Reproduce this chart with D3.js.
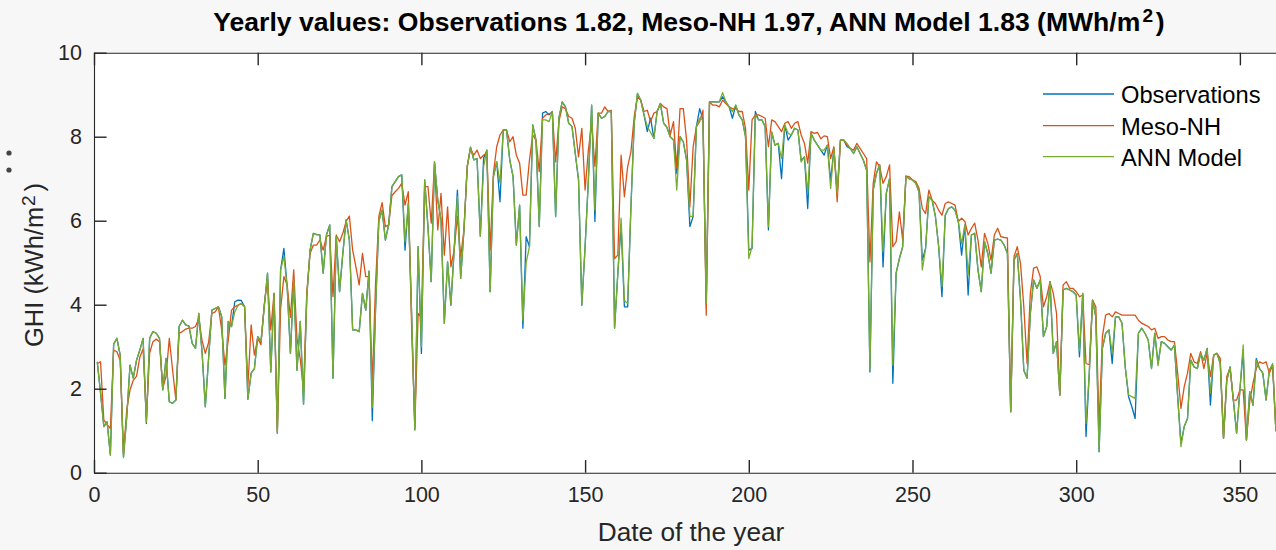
<!DOCTYPE html>
<html>
<head>
<meta charset="utf-8">
<script src="https://cdn.jsdelivr.net/npm/d3@7"></script>
<style>
  html, body { margin: 0; padding: 0; background: #f7f7f7; }
  svg { display: block; }
  text { font-family: "Liberation Sans", Arial, Helvetica, sans-serif; }
</style>
</head>
<body>
<svg id="chart" width="1276" height="550"></svg>
<script>
// Daily global horizontal irradiation, kWh/m2 per day, days 1..365
const observations = [
  2.64,1.90,1.10,1.21,0.42,3.06,3.20,2.80,0.38,1.33,
  2.56,2.25,2.68,2.92,3.20,1.17,3.20,3.36,3.32,3.20,
  1.97,2.72,1.69,1.65,1.73,3.48,3.63,3.52,3.49,3.08,
  2.96,3.79,2.88,1.57,2.72,3.87,3.91,3.95,3.72,1.77,
  3.60,3.48,4.07,4.11,4.10,3.95,1.75,2.37,2.48,3.24,
  3.12,3.95,4.75,2.40,4.27,0.94,4.83,5.34,4.43,2.84,
  4.60,2.44,3.60,1.63,4.20,5.30,5.70,5.67,5.66,4.75,
  5.66,5.90,2.25,5.62,4.31,5.22,6.02,5.54,3.40,3.40,
  3.36,4.27,3.87,4.80,1.24,3.90,6.00,6.25,5.54,5.90,
  6.81,6.93,7.05,7.09,5.30,6.41,3.80,1.02,5.38,2.84,
  6.97,5.86,4.55,7.40,6.49,6.02,3.56,5.02,3.99,5.30,
  6.73,4.63,5.78,7.29,7.75,7.45,7.48,5.63,7.49,7.68,
  4.31,7.05,7.40,6.45,8.16,8.16,7.44,7.05,5.42,6.37,
  3.44,5.62,5.38,8.28,7.92,5.86,8.56,8.60,8.52,8.60,
  6.10,8.44,8.83,8.71,8.32,8.24,7.60,6.97,3.99,5.38,
  6.97,8.75,5.98,8.56,8.44,8.48,8.60,8.60,3.44,4.75,
  5.90,3.95,3.95,6.33,8.32,9.03,8.87,8.52,8.12,8.44,
  7.96,8.60,8.79,8.32,8.22,8.00,7.92,7.13,8.00,7.88,
  7.44,5.86,6.10,8.24,8.67,8.40,4.00,8.83,8.83,8.83,
  8.83,8.95,8.83,8.71,8.44,8.75,8.52,8.40,8.00,5.30,
  5.34,8.60,8.40,8.40,8.24,5.78,8.10,7.80,7.84,7.00,
  8.28,7.92,8.04,8.20,8.16,7.43,7.52,6.29,8.08,7.92,
  7.80,7.68,7.56,7.80,6.95,7.72,6.65,7.92,7.92,7.76,
  7.72,7.60,7.76,7.60,7.44,7.20,2.40,6.73,7.13,7.33,
  4.90,6.65,7.00,2.13,4.75,5.10,5.38,7.06,7.00,6.97,
  6.89,6.69,5.06,5.34,6.57,6.49,6.10,5.38,4.19,6.13,
  6.29,6.33,6.25,5.98,5.18,5.90,4.23,5.66,5.70,4.83,
  4.31,5.50,5.22,4.75,5.54,5.56,5.54,5.42,5.22,1.45,
  5.06,5.22,4.11,2.44,2.25,3.79,4.59,4.39,4.59,3.24,
  3.48,4.55,2.84,3.12,1.85,4.35,4.39,4.35,4.31,4.23,
  2.76,4.27,0.86,2.37,4.11,3.71,0.50,2.96,3.32,3.40,
  2.60,3.71,3.71,3.56,2.50,1.81,1.57,1.29,3.32,3.44,
  3.32,3.16,2.48,3.32,2.60,3.12,3.08,3.00,2.92,3.04,
  1.80,0.70,1.10,1.29,2.68,2.52,2.48,2.84,2.68,2.96,
  1.61,2.80,2.84,2.60,0.82,2.20,2.52,1.73,0.94,1.97,
  2.90,0.78,1.93,1.61,2.72,2.48,2.37,1.73,2.44,2.55,
  1.00,1.90,2.30,2.10,1.80
];

const mesoNH = [
  2.60,2.64,1.25,1.15,1.05,2.92,2.88,2.68,0.45,1.50,
  1.97,2.20,2.30,2.75,2.95,1.30,2.85,3.12,3.18,3.12,
  2.00,2.30,3.20,2.45,1.73,3.32,3.36,3.42,3.44,3.44,
  3.48,3.67,3.15,2.84,3.10,3.79,3.83,3.95,3.40,2.56,
  3.15,3.87,3.95,3.99,4.03,3.95,2.05,3.52,2.80,3.20,
  3.05,4.00,4.60,3.40,4.27,1.00,3.90,4.67,4.47,3.70,
  4.83,3.20,2.70,1.97,4.30,5.22,5.42,5.42,5.54,5.30,
  5.62,5.66,4.19,5.66,5.50,5.70,5.98,6.11,5.30,4.90,
  4.47,5.22,4.67,4.67,2.13,4.50,6.10,6.43,5.86,5.90,
  6.60,6.69,6.77,6.89,6.37,6.69,3.50,1.10,3.79,3.71,
  6.81,6.81,5.94,7.35,5.78,6.65,5.18,6.33,4.90,5.30,
  6.10,5.14,5.78,7.29,7.72,7.56,7.68,7.48,7.56,7.60,
  5.30,7.13,7.76,8.04,8.16,8.16,7.88,8.00,7.56,7.37,
  6.61,6.61,7.44,8.04,7.92,7.17,8.44,8.52,8.55,8.56,
  7.40,8.36,8.71,8.67,8.48,8.44,8.20,7.52,8.20,6.73,
  7.68,8.32,7.29,8.56,8.56,8.71,8.60,8.63,5.10,5.18,
  7.56,6.57,7.29,7.64,8.48,8.95,8.87,8.60,8.63,8.36,
  8.56,8.60,8.79,8.71,8.67,8.04,8.36,7.25,8.67,8.67,
  7.92,6.33,7.76,8.24,8.36,8.63,3.75,8.83,8.75,8.75,
  8.71,8.87,8.79,8.71,8.67,8.67,8.60,8.60,8.20,6.73,
  8.40,8.52,8.52,8.48,8.44,7.76,8.40,8.36,8.24,8.12,
  8.32,8.36,8.20,8.32,8.36,8.04,7.84,7.37,8.12,8.08,
  8.10,7.95,8.02,8.00,7.48,7.76,6.45,7.92,7.92,7.80,
  7.72,7.68,7.84,7.72,7.60,7.48,5.02,6.89,7.40,7.29,
  6.89,7.05,7.33,5.38,5.50,6.21,5.54,7.06,7.05,6.97,
  6.93,6.77,6.29,6.17,6.73,6.49,6.41,6.25,6.13,6.41,
  6.45,6.41,6.37,5.98,6.06,5.98,5.66,5.82,5.94,5.54,
  4.90,5.70,5.46,5.06,5.66,5.82,5.62,5.60,5.59,1.45,
  5.14,5.38,4.98,3.95,2.60,4.27,4.87,4.90,4.67,3.95,
  4.19,4.55,4.27,3.79,1.85,4.47,4.55,4.39,4.39,4.31,
  4.19,4.23,2.60,2.57,4.11,3.95,1.10,3.24,3.75,3.79,
  3.71,3.83,3.79,3.75,3.75,3.75,3.75,3.75,3.63,3.56,
  3.52,3.48,3.40,3.44,3.20,3.24,3.24,3.16,3.12,3.12,
  2.37,1.53,2.05,2.37,2.84,2.64,2.60,2.88,2.48,2.84,
  2.29,2.80,2.84,2.72,0.82,2.29,2.48,1.73,1.73,1.97,
  1.97,0.78,1.69,2.13,2.48,2.64,2.60,2.64,2.37,2.56,
  1.00,2.20,2.50,2.30,2.00
];

const annModel = [
  2.64,1.90,1.10,1.21,0.42,3.06,3.20,2.80,0.36,1.33,
  2.56,2.25,2.68,2.92,3.20,1.20,3.20,3.36,3.32,3.20,
  1.97,2.72,1.69,1.65,1.73,3.48,3.63,3.52,3.49,3.08,
  2.96,3.79,2.88,1.57,2.72,3.87,3.91,3.95,3.72,1.77,
  3.60,3.48,3.83,3.98,4.03,3.95,1.75,2.37,2.48,3.24,
  3.12,3.95,4.75,2.40,4.27,0.94,4.83,5.15,4.43,2.84,
  4.60,2.44,3.60,1.63,4.20,5.30,5.70,5.67,5.66,4.75,
  5.66,5.90,2.25,5.62,4.31,5.22,6.02,5.54,3.40,3.40,
  3.36,4.27,3.87,4.80,1.55,3.90,6.00,6.25,5.54,5.90,
  6.81,6.93,7.05,7.09,5.50,6.41,3.80,1.02,5.38,3.00,
  6.97,5.86,4.55,7.40,6.49,6.02,3.56,5.02,3.99,5.30,
  6.57,4.63,5.78,7.29,7.75,7.45,7.48,5.63,7.29,7.68,
  4.31,7.05,7.40,6.90,8.16,8.16,7.44,7.05,5.42,6.37,
  3.63,5.00,5.38,8.28,7.92,5.86,8.40,8.40,8.36,8.60,
  6.10,8.44,8.83,8.71,8.32,8.24,7.60,6.97,3.99,5.38,
  6.97,8.75,6.25,8.56,8.44,8.48,8.60,8.60,3.44,4.75,
  6.06,4.10,4.03,6.33,8.32,9.03,8.87,8.52,8.25,8.10,
  7.96,8.60,8.79,8.32,8.22,8.00,7.92,6.73,8.00,7.88,
  7.44,6.10,6.10,8.24,8.44,8.40,4.03,8.83,8.83,8.83,
  8.83,9.05,8.83,8.71,8.60,8.75,8.52,8.40,8.00,5.10,
  5.38,8.52,8.40,8.40,8.24,5.86,8.12,7.80,7.84,7.48,
  8.28,8.08,8.04,8.20,8.16,7.40,7.52,6.65,8.08,7.92,
  7.80,7.68,7.68,7.80,6.77,7.72,6.65,7.92,7.92,7.84,
  7.72,7.60,7.76,7.60,7.44,7.20,2.44,6.73,7.13,7.33,
  5.26,6.65,7.00,2.56,4.75,5.10,5.38,7.06,7.00,6.97,
  6.89,6.69,4.83,5.34,6.57,6.49,6.10,5.38,4.43,6.13,
  6.29,6.33,6.25,5.98,5.45,5.90,4.71,5.66,5.70,4.83,
  4.31,5.50,5.22,4.75,5.54,5.56,5.54,5.42,5.22,1.45,
  5.06,5.22,4.11,2.44,2.25,3.79,4.59,4.39,4.59,3.24,
  3.48,4.55,2.84,3.12,1.85,4.35,4.39,4.35,4.31,4.23,
  2.90,4.27,1.17,2.37,4.11,3.71,0.50,2.96,3.32,3.40,
  2.85,3.71,3.71,3.56,2.50,1.85,1.81,1.77,3.32,3.44,
  3.32,3.16,2.48,3.32,2.55,3.12,3.08,3.00,2.92,3.04,
  1.80,0.62,1.10,1.29,2.68,2.52,2.48,2.84,2.68,2.96,
  1.90,2.80,2.84,2.60,0.82,2.20,2.52,1.73,0.94,1.97,
  3.04,0.78,1.93,1.61,2.68,2.48,2.37,1.73,2.44,2.60,
  1.00,1.90,2.30,2.10,1.80
];

const seriesNames = ["Observations", "Meso-NH", "ANN Model"];
const seriesColors = ["#0072BD", "#D95319", "#77AC30"];
const xTicks = [0, 50, 100, 150, 200, 250, 300, 350];
const yTicks = [0, 2, 4, 6, 8, 10];
const yearlyTotals = [1.82, 1.97, 1.83]; // MWh/m2

const days = d3.range(1, observations.length + 1);
const series = [observations, mesoNH, annModel];

const svg = d3.select("#chart");
const W = 1276, H = 550;
const plot = { left: 94, top: 52.7, right: 1289, bottom: 472.7 };
const axisColor = "#262626";
const tickLen = 12.6;

// scale a text element's font so its rendered width equals `target` px
function fitWidth(sel, target) {
  const node = sel.node();
  const base = parseFloat(sel.style("font-size"));
  const w = node.getBBox().width;
  sel.style("font-size", (base * target / w) + "px");
}

svg.append("rect").attr("width", W).attr("height", H).attr("fill", "#f7f7f7");
svg.append("rect")
  .attr("x", plot.left).attr("y", plot.top)
  .attr("width", plot.right - plot.left).attr("height", plot.bottom - plot.top)
  .attr("fill", "#ffffff");

const x = d3.scaleLinear().domain([0, 365]).range([plot.left, plot.right]);
const y = d3.scaleLinear().domain([0, 10]).range([plot.bottom, plot.top]);

// data lines
const line = d3.line().x((d, i) => x(days[i])).y(d => y(d));
const lines = svg.append("g").attr("fill", "none").attr("stroke-width", 1.3).attr("stroke-linejoin", "round");
series.forEach((vals, k) => {
  lines.append("path").datum(vals).attr("d", line).attr("stroke", seriesColors[k]);
});

// axes (inward ticks, box on)
function styleAxis(g) {
  g.selectAll("path.domain").attr("stroke", axisColor).attr("stroke-width", 1.1);
  g.selectAll(".tick line").attr("stroke", axisColor).attr("stroke-width", 1.4);
  g.selectAll(".tick text").attr("fill", axisColor)
    .style("font-size", "21.5px").style("font-family", '"Liberation Sans", Arial, sans-serif');
}
svg.append("g").attr("transform", `translate(0,${plot.bottom})`)
  .call(d3.axisBottom(x).tickValues(xTicks).tickSizeInner(-tickLen).tickSizeOuter(0).tickPadding(14))
  .call(styleAxis);
svg.append("g").attr("transform", `translate(0,${plot.top})`)
  .call(d3.axisTop(x).tickValues(xTicks).tickSizeInner(-tickLen).tickSizeOuter(0).tickFormat(""))
  .call(styleAxis);
svg.append("g").attr("transform", `translate(${plot.left},0)`)
  .call(d3.axisLeft(y).tickValues(yTicks).tickSizeInner(-tickLen).tickSizeOuter(0).tickPadding(12))
  .call(styleAxis);
svg.append("g").attr("transform", `translate(${plot.right},0)`)
  .call(d3.axisRight(y).tickValues(yTicks).tickSizeInner(-tickLen).tickSizeOuter(0).tickFormat(""))
  .call(styleAxis);

// title
const title = svg.append("text")
  .attr("x", 689).attr("y", 31)
  .attr("text-anchor", "middle").attr("fill", "#000")
  .style("font-weight", "bold").style("font-size", "22px");
title.append("tspan").text(
  `Yearly values: ${seriesNames[0]} ${yearlyTotals[0].toFixed(2)}, ${seriesNames[1]} ${yearlyTotals[1].toFixed(2)}, ${seriesNames[2]} ${yearlyTotals[2].toFixed(2)} (MWh/m`);
title.append("tspan").attr("dy", "-0.45em").attr("dx", "0.12em").style("font-size", "0.72em").text("2");
title.append("tspan").attr("dy", "0.32em").attr("dx", "0.1em").text(")");
fitWidth(title, 952);

// axis labels
const xlab = svg.append("text")
  .attr("x", 691).attr("y", 541).attr("text-anchor", "middle").attr("fill", axisColor)
  .style("font-size", "23px").text("Date of the year");
fitWidth(xlab, 187);

const ylab = svg.append("text")
  .attr("transform", "translate(43,265) rotate(-90)")
  .attr("text-anchor", "middle").attr("fill", axisColor)
  .style("font-size", "23px");
ylab.append("tspan").text("GHI (kWh/m");
ylab.append("tspan").attr("dy", "-0.4em").attr("dx", "0.05em").style("font-size", "0.75em").text("2");
ylab.append("tspan").attr("dy", "0.3em").attr("dx", "0.15em").text(")");
{
  const bb = ylab.node().getBBox();
  const base = parseFloat(ylab.style("font-size"));
  ylab.style("font-size", (base * 164 / bb.width) + "px");
}

// small marks left of the y label
svg.append("g").selectAll("circle").data([153, 170]).join("circle")
  .attr("cx", 9).attr("cy", d => d).attr("r", 2.6).attr("fill", "#444");

// legend
const legend = svg.append("g");
const legendRows = [94, 125.7, 156.7];
seriesNames.forEach((name, k) => {
  legend.append("line")
    .attr("x1", 1043).attr("x2", 1114).attr("y1", legendRows[k]).attr("y2", legendRows[k])
    .attr("stroke", seriesColors[k]).attr("stroke-width", 1.3);
  legend.append("text")
    .attr("x", 1121).attr("y", legendRows[k] + 9.3).attr("fill", "#000")
    .style("font-size", "23.7px").text(name);
});
</script>
</body>
</html>
